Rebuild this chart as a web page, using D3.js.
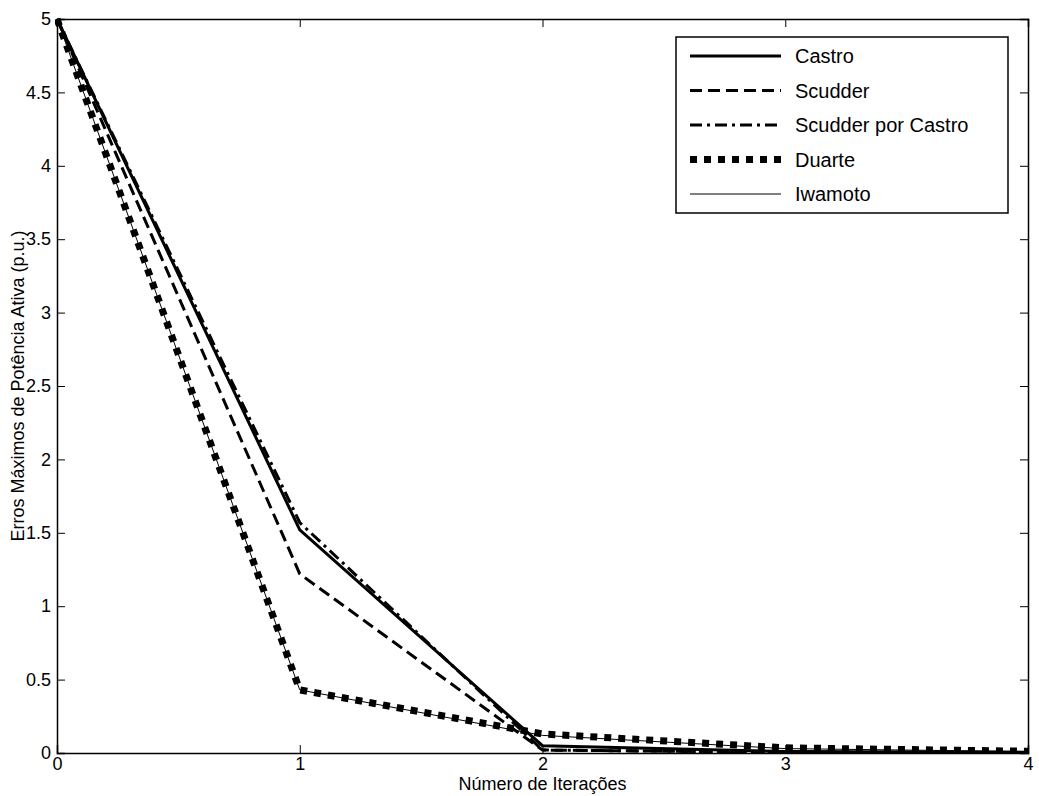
<!DOCTYPE html>
<html>
<head>
<meta charset="utf-8">
<script src="https://cdn.jsdelivr.net/npm/d3@7"></script>
<style>
  body { margin: 0; background: #fff; }
  svg text { font-family: "Liberation Sans", Arial, sans-serif; fill: #000; }
</style>
</head>
<body>
<script>
// data
var iteracoes = [0, 1, 2, 3, 4];
var castro    = [5, 1.52, 0.05, 0.01, 0.005];
var scudder   = [5, 1.22, 0.02, 0.005, 0.002];
var scudderPorCastro = [5, 1.57, 0.02, 0.005, 0.002];
var duarte    = [5, 0.43, 0.13, 0.035, 0.012];
var iwamoto   = [5, 0.43, 0.12, 0.03, 0.01];
var nomes = ["Castro", "Scudder", "Scudder por Castro", "Duarte", "Iwamoto"];
var xTicks = [0, 1, 2, 3, 4];
var yTicks = [0, 0.5, 1, 1.5, 2, 2.5, 3, 3.5, 4, 4.5, 5];

var W = 1039, H = 796;
var m = {left: 57, right: 11, top: 19, bottom: 43};
var pw = W - m.left - m.right, ph = H - m.top - m.bottom;

var svg = d3.select("body").append("svg").attr("width", W).attr("height", H);
var g = svg.append("g").attr("transform", "translate(" + m.left + "," + m.top + ")");

var x = d3.scaleLinear().domain([0, 4]).range([0, pw]);
var y = d3.scaleLinear().domain([0, 5]).range([ph, 0]);

// estilos das series
var estilos = [
  {w: 3, dash: null},
  {w: 3, dash: "12,6"},
  {w: 3, dash: "12,5,3,5"},
  {w: 7, dash: "7,7"},
  {w: 1, dash: null}
];
var series = [castro, scudder, scudderPorCastro, duarte, iwamoto];

g.append("defs").append("clipPath").attr("id", "clip")
  .append("rect").attr("x", -2).attr("y", -2).attr("width", pw + 4).attr("height", ph + 2);

var line = d3.line().x(function(d, i) { return x(iteracoes[i]); }).y(function(d) { return y(d); });

var plot = g.append("g").attr("clip-path", "url(#clip)");
series.forEach(function(s, k) {
  plot.append("path").datum(s)
    .attr("d", line)
    .attr("fill", "none")
    .attr("stroke", "#000")
    .attr("stroke-width", estilos[k].w)
    .attr("stroke-dasharray", estilos[k].dash);
});

// eixos (ticks para dentro, box)
var tl = 8;
g.append("g").attr("transform", "translate(0," + ph + ")")
  .call(d3.axisBottom(x).tickValues(xTicks).tickSize(-tl).tickPadding(4).tickFormat(d3.format("d")));
g.append("g")
  .call(d3.axisTop(x).tickValues(xTicks).tickSize(-tl).tickFormat(""));
g.append("g")
  .call(d3.axisLeft(y).tickValues(yTicks).tickSize(-tl).tickPadding(6).tickFormat(function(d) { return d; }));
g.append("g").attr("transform", "translate(" + pw + ",0)")
  .call(d3.axisRight(y).tickValues(yTicks).tickSize(-tl).tickFormat(""));

g.selectAll(".domain").attr("stroke", "#000").attr("stroke-width", 1.5);
g.selectAll(".tick line").attr("stroke", "#000");
g.selectAll(".tick text").style("font-size", "18px").attr("fill", "#000");

// rotulos
svg.append("text")
  .attr("x", m.left + pw / 2).attr("y", H - 6)
  .attr("text-anchor", "middle").style("font-size", "18px")
  .text("Número de Iterações");
svg.append("text")
  .attr("transform", "translate(24," + (m.top + ph / 2) + ") rotate(-90)")
  .attr("text-anchor", "middle").style("font-size", "18px")
  .text("Erros Máximos de Potência Ativa (p.u.)");

// legenda
var lg = svg.append("g").attr("transform", "translate(676,37)");
lg.append("rect").attr("width", 332).attr("height", 176)
  .attr("fill", "#fff").attr("stroke", "#000").attr("stroke-width", 1.5);
nomes.forEach(function(n, k) {
  var yy = 19 + k * 34.5;
  lg.append("line").attr("x1", 14).attr("x2", 105).attr("y1", yy).attr("y2", yy)
    .attr("stroke", "#000").attr("stroke-width", estilos[k].w)
    .attr("stroke-dasharray", estilos[k].dash);
  lg.append("text").attr("x", 119).attr("y", yy + 7).style("font-size", "20px").text(n);
});
</script>
</body>
</html>
